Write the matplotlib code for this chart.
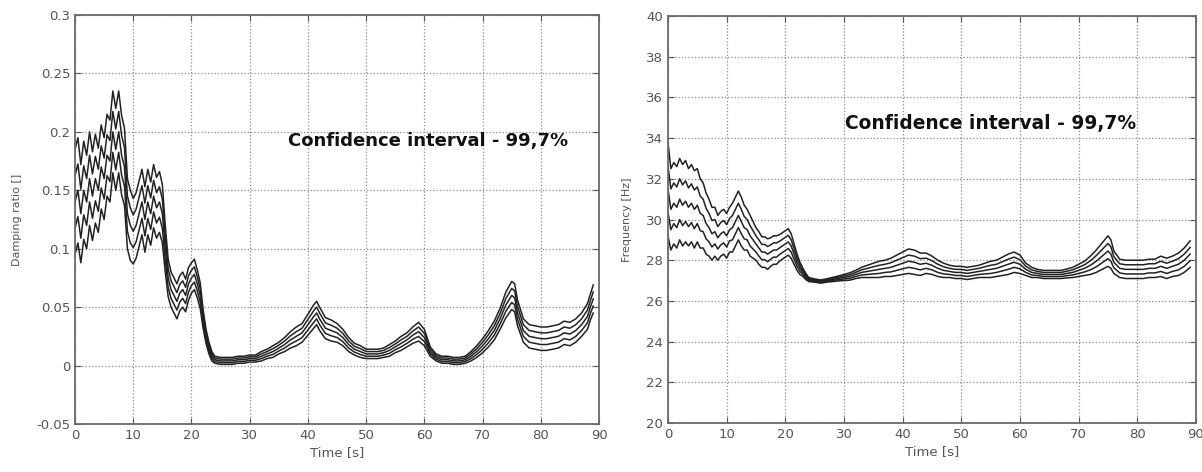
import numpy as np
import matplotlib.pyplot as plt
from matplotlib.ticker import FuncFormatter

# Damping ratio panel: time, band centre and band half-width (outer curves)
time_damp = [0, 0.5, 1, 1.5, 2, 2.5, 3, 3.5, 4, 4.5, 5, 5.5, 6, 6.5, 7, 7.5, 8, 8.5, 9, 9.5,
             10, 10.5, 11, 11.5, 12, 12.5, 13, 13.5, 14, 14.5, 15, 15.5, 16, 16.5, 17, 17.5,
             18, 18.5, 19, 19.5, 20, 20.5, 21, 21.5, 22, 22.5, 23, 23.5, 24, 25, 26, 27, 28,
             29, 30, 31, 32, 33, 34, 35, 36, 37, 38, 39, 40, 41, 41.5, 42, 43, 44, 45, 46, 47,
             48, 49, 50, 51, 52, 53, 54, 55, 56, 57, 58, 59, 60, 61, 62, 63, 64, 65, 66, 67,
             68, 69, 70, 71, 72, 73, 74, 75, 75.5, 76, 77, 78, 79, 80, 81, 82, 83, 84, 85, 86,
             87, 88, 88.5, 89]
damp_mid = [0.140, 0.150, 0.130, 0.150, 0.140, 0.160, 0.145, 0.160, 0.150, 0.170, 0.160, 0.180,
            0.175, 0.200, 0.185, 0.200, 0.180, 0.170, 0.130, 0.120, 0.115, 0.120, 0.130, 0.140,
            0.125, 0.140, 0.130, 0.145, 0.135, 0.140, 0.130, 0.100, 0.075, 0.065, 0.060, 0.055,
            0.062, 0.065, 0.060, 0.070, 0.075, 0.078, 0.070, 0.060, 0.040, 0.025, 0.015, 0.008,
            0.005, 0.004, 0.004, 0.004, 0.005, 0.005, 0.006, 0.006, 0.008, 0.010, 0.012, 0.015,
            0.018, 0.022, 0.025, 0.028, 0.035, 0.042, 0.045, 0.040, 0.032, 0.030, 0.028, 0.024,
            0.018, 0.014, 0.012, 0.010, 0.010, 0.010, 0.011, 0.013, 0.016, 0.019, 0.022, 0.026,
            0.029, 0.024, 0.012, 0.007, 0.005, 0.005, 0.004, 0.004, 0.005, 0.008, 0.012, 0.017,
            0.023, 0.030, 0.040, 0.052, 0.060, 0.058, 0.045, 0.030, 0.025, 0.024, 0.023, 0.023,
            0.024, 0.025, 0.028, 0.027, 0.030, 0.035, 0.042, 0.050, 0.057]
damp_half = [0.045, 0.045, 0.042, 0.042, 0.040, 0.040, 0.038, 0.038, 0.036, 0.036, 0.035, 0.035,
             0.035, 0.035, 0.035, 0.035, 0.034, 0.033, 0.030, 0.030, 0.028, 0.028, 0.028, 0.028,
             0.028, 0.028, 0.027, 0.027, 0.026, 0.026, 0.025, 0.020, 0.016, 0.015, 0.015, 0.015,
             0.015, 0.015, 0.014, 0.014, 0.013, 0.013, 0.012, 0.011, 0.008, 0.006, 0.005, 0.004,
             0.003, 0.003, 0.003, 0.003, 0.003, 0.003, 0.003, 0.003, 0.004, 0.004, 0.005, 0.005,
             0.006, 0.007, 0.008, 0.008, 0.009, 0.010, 0.010, 0.010, 0.009, 0.009, 0.008, 0.007,
             0.006, 0.005, 0.005, 0.004, 0.004, 0.004, 0.004, 0.005, 0.005, 0.006, 0.006, 0.007,
             0.008, 0.007, 0.004, 0.003, 0.003, 0.003, 0.003, 0.003, 0.003, 0.004, 0.005, 0.006,
             0.007, 0.008, 0.009, 0.011, 0.012, 0.012, 0.011, 0.010, 0.010, 0.010, 0.010, 0.010,
             0.010, 0.010, 0.010, 0.010, 0.010, 0.010, 0.011, 0.011, 0.012]

# Frequency panel
time_freq = [0, 0.5, 1, 1.5, 2, 2.5, 3, 3.5, 4, 4.5, 5, 5.5, 6, 6.5, 7, 7.5, 8, 8.5, 9, 9.5,
             10, 10.5, 11, 11.5, 12, 12.5, 13, 13.5, 14, 14.5, 15, 15.5, 16, 16.5, 17, 17.5,
             18, 18.5, 19, 19.5, 20, 20.5, 21, 21.5, 22, 22.5, 23, 23.5, 24, 25, 26, 27, 28,
             29, 30, 31, 32, 33, 34, 35, 36, 37, 38, 39, 40, 41, 42, 43, 44, 45, 46, 47, 48,
             49, 50, 51, 52, 53, 54, 55, 56, 57, 58, 59, 60, 61, 62, 63, 64, 65, 66, 67, 68,
             69, 70, 71, 72, 73, 74, 75, 75.5, 76, 77, 78, 79, 80, 81, 82, 83, 84, 85, 86, 87,
             88, 89]
freq_mid = [31.5, 30.5, 30.8, 30.6, 31.0, 30.7, 30.9, 30.6, 30.8, 30.5, 30.7, 30.3, 30.2, 29.8,
            29.6, 29.3, 29.4, 29.1, 29.3, 29.4, 29.2, 29.5, 29.6, 29.9, 30.2, 29.9, 29.6, 29.5,
            29.2, 29.0, 28.8, 28.6, 28.4, 28.4, 28.3, 28.4, 28.5, 28.5, 28.6, 28.7, 28.8, 28.9,
            28.7, 28.3, 27.9, 27.6, 27.4, 27.2, 27.05, 27.0, 26.95, 27.0, 27.05, 27.1, 27.15,
            27.2, 27.3, 27.4, 27.45, 27.5, 27.55, 27.6, 27.65, 27.75, 27.85, 27.95, 27.9, 27.8,
            27.85, 27.75, 27.6, 27.5, 27.45, 27.4, 27.4, 27.35, 27.4, 27.45, 27.5, 27.55, 27.6,
            27.7, 27.8, 27.9, 27.8, 27.55, 27.4, 27.35, 27.3, 27.3, 27.3, 27.3, 27.35, 27.4,
            27.5, 27.6, 27.75, 27.95, 28.2, 28.45, 28.3, 27.9, 27.6, 27.55, 27.55, 27.55, 27.55,
            27.6, 27.6, 27.7, 27.6, 27.7, 27.8, 28.0, 28.3]
freq_half = [2.3, 2.0, 2.0, 2.0, 2.0, 2.0, 2.0, 1.9, 1.9, 1.9, 1.8, 1.7, 1.6, 1.5, 1.4, 1.3,
             1.2, 1.1, 1.1, 1.1, 1.1, 1.1, 1.2, 1.2, 1.2, 1.2, 1.1, 1.0, 1.0, 0.9, 0.8, 0.8,
             0.75, 0.75, 0.75, 0.7, 0.7, 0.7, 0.65, 0.65, 0.65, 0.65, 0.6, 0.5, 0.4, 0.3, 0.2,
             0.15, 0.1, 0.08, 0.08, 0.08, 0.1, 0.12, 0.15, 0.18, 0.2, 0.25, 0.3, 0.35, 0.4, 0.4,
             0.45, 0.5, 0.55, 0.6, 0.6, 0.55, 0.5, 0.45, 0.4, 0.35, 0.3, 0.3, 0.3, 0.3, 0.3,
             0.3, 0.35, 0.4, 0.4, 0.45, 0.5, 0.5, 0.45, 0.3, 0.25, 0.2, 0.2, 0.2, 0.2, 0.2,
             0.22, 0.25, 0.3, 0.35, 0.45, 0.55, 0.65, 0.75, 0.7, 0.55, 0.45, 0.45, 0.45, 0.45,
             0.45, 0.45, 0.45, 0.5, 0.5, 0.5, 0.55, 0.6, 0.65]

band_levels = [-1.0, -0.5, 0.0, 0.5, 1.0]
note = "Confidence interval - 99,7%"

plt.rcParams['font.family'] = ['DejaVu Sans']

fig = plt.figure(figsize=(12.02, 4.72), dpi=100)
ax1 = fig.add_axes([0.0624, 0.1017, 0.436, 0.8665])
ax2 = fig.add_axes([0.5557, 0.1038, 0.4393, 0.8623])


def style_axes(ax):
    ax.set_xlim(0, 90)
    ax.set_xticks(range(0, 91, 10))
    ax.grid(True, linestyle=':', color='#8a8a8a', linewidth=0.9)
    ax.tick_params(direction='in', top=True, right=True, length=4,
                   labelsize=9.5, colors='#555555', labelcolor='#555555')
    for s in ax.spines.values():
        s.set_color('#6a6a6a')
        s.set_linewidth(1.3)
    ax.set_xlabel("Time [s]", fontsize=9.5, color='#555555', labelpad=3)


def draw_band(ax, t, mid, half):
    mid = np.array(mid)
    half = np.array(half)
    for k in band_levels:
        ax.plot(t, mid + k * half, color='#222222', linewidth=1.1)


# left: damping ratio
draw_band(ax1, time_damp, damp_mid, damp_half)
style_axes(ax1)
ax1.set_ylim(-0.05, 0.3)
ax1.set_yticks(np.arange(-0.05, 0.301, 0.05))
ax1.yaxis.set_major_formatter(FuncFormatter(lambda v, p: "%g" % round(v, 2)))
ax1.set_ylabel("Damping ratio []", fontsize=8, color='#555555', labelpad=10)
ax1.text(36.6, 0.192, note, fontsize=13, fontweight='bold', va='center', color='#111111')

# right: frequency
draw_band(ax2, time_freq, freq_mid, freq_half)
style_axes(ax2)
ax2.set_ylim(20, 40)
ax2.set_yticks(range(20, 41, 2))
ax2.set_ylabel("Frequency [Hz]", fontsize=8, color='#555555', labelpad=10)
ax2.text(30.2, 34.74, note, fontsize=13.4, fontweight='bold', va='center', color='#111111')

fig.savefig("out.png", dpi=100)
